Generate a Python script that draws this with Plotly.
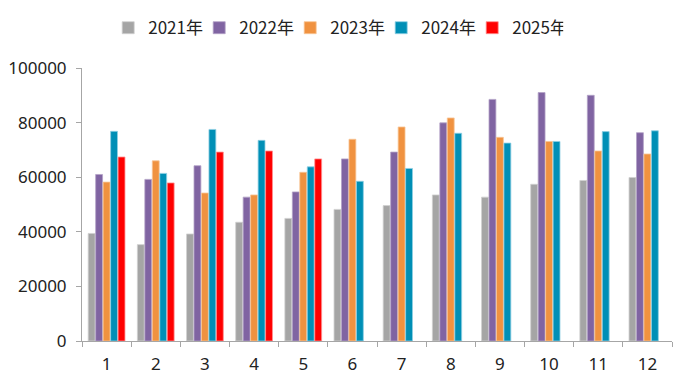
import plotly.graph_objects as go

months = ["1", "2", "3", "4", "5", "6", "7", "8", "9", "10", "11", "12"]
y2021 = [39400, 35300, 39200, 43500, 44900, 48200, 49600, 53500, 52700, 57400, 58800, 59900]
y2022 = [61000, 59200, 64200, 52700, 54600, 66700, 69200, 79900, 88500, 91000, 90000, 76300]
y2023 = [58200, 66000, 54200, 53500, 61800, 73900, 78400, 81700, 74600, 73100, 69600, 68500]
y2024 = [76800, 61400, 77500, 73500, 63800, 58500, 63200, 76100, 72500, 73100, 76700, 77000]
y2025 = [67400, 57900, 69200, 69600, 66700, None, None, None, None, None, None, None]

series = [
    ("2021年", y2021, "#A5A5A5", "#D0D0D0"),
    ("2022年", y2022, "#8064A2", "#B3A2C7"),
    ("2023年", y2023, "#F09240", "#F8C596"),
    ("2024年", y2024, "#008FB6", "#8FCFE3"),
    ("2025年", y2025, "#FF0000", "#FF9090"),
]

fig = go.Figure()
for name, vals, col, edge in series:
    fig.add_trace(go.Bar(
        name=name, x=months, y=vals,
        marker=dict(color=col, line=dict(color=edge, width=0.8)),
    ))

fig.update_layout(
    width=700, height=385,
    barmode="group", bargap=0.24, bargroupgap=0.08,
    plot_bgcolor="white", paper_bgcolor="white",
    margin=dict(l=74, r=36, t=60, b=52, autoexpand=False),
    font=dict(family="Noto Sans, Noto Sans CJK SC", size=17, color="#222222"),
    legend=dict(
        orientation="h", x=0.43, xanchor="center", y=1.146, yanchor="middle",
        font=dict(family="Noto Sans CJK SC", size=17, color="#222222"),
        itemwidth=30, traceorder="normal",
        entrywidth=46, entrywidthmode="pixels",
    ),
    xaxis=dict(
        type="category", showline=True, linecolor="#A6A6A6", linewidth=1,
        ticks="outside", tickson="boundaries", ticklen=5, tickcolor="#A6A6A6",
        showgrid=False, tickfont=dict(size=17), ticklabelstandoff=8,
    ),
    yaxis=dict(
        range=[0, 100000], dtick=20000, showline=True, linecolor="#A6A6A6",
        linewidth=1, ticks="outside", ticklen=5, tickcolor="#A6A6A6",
        showgrid=False, zeroline=False, tickformat="d",
        tickfont=dict(size=17), ticklabelstandoff=6,
    ),
)

fig.write_html("out.html")
